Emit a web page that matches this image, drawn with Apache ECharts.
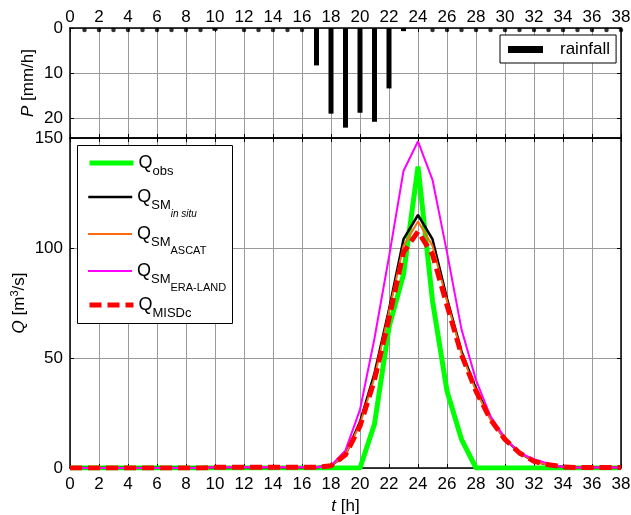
<!DOCTYPE html>
<html>

<head>
  <meta charset="utf-8" />
  <script src="https://cdn.jsdelivr.net/npm/echarts@6/dist/echarts.min.js"></script>
</head>

<body style="margin:0">
  <div id="main" style="width: 631px;height:515px;"></div>
  <script type="text/javascript">
    var hours = [0, 1, 2, 3, 4, 5, 6, 7, 8, 9, 10, 11, 12, 13, 14, 15, 16, 17, 18, 19,
      20, 21, 22, 23, 24, 25, 26, 27, 28, 29, 30, 31, 32, 33, 34, 35, 36, 37, 38]
    // rainfall [mm/h], null = no record
    var rain = [null, 0, 0, 0, 0, 0, 0, 0, 0, 0, 0.6, null, 0, 0, 0, 0, 0, 8.3, 19.0, 22.1,
      18.8, 20.8, 13.4, 0.7, null, 0, 0, 0, 0, 0, 0, 0, 0, 0, 0, 0, 0, 0, 0]
    // discharge [m3/s]
    var qObs = [0, 0, 0, 0, 0, 0, 0, 0, 0, 0, 0, 0, 0, 0, 0, 0, 0, 0, 0, 0,
      0, 20, 64, 88, 137, 76, 35, 13, 0, 0, 0, 0, 0, 0, 0, 0, 0, 0, 0]
    var qInSitu = [0, 0, 0, 0, 0, 0, 0, 0, 0, 0, 0.3, 0.3, 0.3, 0.3, 0.3, 0.3, 0.3, 0.3, 1, 6,
      21, 43, 72, 104, 115, 104, 77, 53, 36, 22.5, 13, 7, 3, 1.5, 0.5, 0.2, 0.2, 0.2, 0.2]
    var qAscat = [0, 0, 0, 0, 0, 0, 0, 0, 0, 0, 0.3, 0.3, 0.3, 0.3, 0.3, 0.3, 0.3, 0.3, 1, 6,
      20, 41, 71, 101, 112, 101, 76, 52, 35, 22, 13, 7, 3, 1.5, 0.5, 0.2, 0.2, 0.2, 0.2]
    var qEra = [0, 0, 0, 0, 0, 0, 0, 0, 0, 0, 0.3, 0.3, 0.3, 0.3, 0.3, 0.3, 0.3, 0.3, 1, 8,
      26.5, 59, 96, 135, 148.5, 131, 98, 63, 40, 23.5, 13.6, 6.8, 4, 2, 0.5, 0.2, 0.2, 0.2, 0.2]
    var qMisdc = [0, 0, 0, 0, 0, 0, 0, 0, 0, 0, 0.3, 0.3, 0.3, 0.3, 0.3, 0.3, 0.3, 0.3, 1, 6,
      19, 40, 68, 98, 107.5, 97, 74, 51.5, 35, 22, 13, 6.8, 3, 1.5, 0.5, 0.2, 0.2, 0.2, 0.2]

    var font = 'Liberation Sans, Arial, sans-serif'

    function pairs(arr) {
      return arr.map(function (v, i) { return [hours[i], v] })
    }

    var myChart = echarts.init(document.getElementById('main'))

    function xAx(grid, pos, labels, extra) {
      var a = {
        type: 'value', gridIndex: grid, position: pos, min: 0, max: 38, interval: 2,
        axisLine: { onZero: false, lineStyle: { color: '#000', width: 1.5 } },
        axisTick: { inside: true, length: 4, lineStyle: { color: '#000' } },
        axisLabel: { show: labels, color: '#000', fontSize: 17, fontFamily: font, margin: pos === 'top' ? 2 : 8 },
        splitLine: { show: labels, lineStyle: { color: '#9a9a9a', width: 1 } }
      }
      return Object.assign(a, extra || {})
    }
    function yAx(grid, pos, labels, extra) {
      var a = {
        type: 'value', gridIndex: grid, position: pos,
        axisLine: { onZero: false, lineStyle: { color: '#000', width: 1.5 } },
        axisTick: { inside: true, length: 4, lineStyle: { color: '#000' } },
        axisLabel: { show: labels, color: '#000', fontSize: 17, fontFamily: font, margin: 7 },
        splitLine: { show: labels, lineStyle: { color: '#9a9a9a', width: 1 } }
      }
      return Object.assign(a, extra || {})
    }

    var nameRich = {
      i: { fontStyle: 'italic', fontSize: 17, fontFamily: font, color: '#000' },
      sup: { fontSize: 11, fontFamily: font, color: '#000', padding: [0, 0, 9, 0] }
    }

    var legRich = {
      q: { fontSize: 18, fontFamily: font, color: '#000', height: 46 },
      s: { fontSize: 13, fontFamily: font, color: '#000', padding: [16, 0, 0, 0] },
      ss: { fontSize: 10, fontFamily: font, color: '#000', fontStyle: 'italic', padding: [34, 0, 0, 0] },
      sa: { fontSize: 11, fontFamily: font, color: '#000', padding: [33, 0, 0, 0] }
    }
    var legText = {
      obs: '{q|Q}{s|obs}',
      insitu: '{q|Q}{s|SM}{ss|in situ}',
      ascat: '{q|Q}{s|SM}{sa|ASCAT}',
      era: '{q|Q}{s|SM}{sa|ERA-LAND}',
      misdc: '{q|Q}{s|MISDc}'
    }
    var legNames = ['obs', 'insitu', 'ascat', 'era', 'misdc']
    var legCenters = [163, 197, 234, 271, 305]
    var legWidths = { obs: 5, insitu: 2.5, ascat: 2, era: 2, misdc: 5 }

    var legends = legNames.map(function (n, k) {
      return {
        data: [n], left: 87, top: legCenters[k] - 9, padding: 0, z: 10,
        itemWidth: 44, itemHeight: 14, selectedMode: false,
        itemStyle: { opacity: 0 },
        lineStyle: { width: legWidths[n] },
        formatter: function (name) { return legText[name] },
        textStyle: { rich: legRich }
      }
    })
    legends.push({
      data: ['rainfall'], left: 500, top: 35, z: 10, selectedMode: false,
      padding: [6, 6, 5, 8], borderColor: '#000', borderWidth: 1, backgroundColor: '#fff',
      itemWidth: 35, itemHeight: 7, icon: 'rect',
      textStyle: { fontSize: 17, fontFamily: font, color: '#000', padding: [0, 0, 0, 12] }
    })

    var option = {
      animation: false,
      backgroundColor: '#fff',
      grid: [
        { left: 70, right: 10, top: 28, height: 110, outerBoundsMode: 'none', containLabel: false },
        { left: 70, right: 10, top: 138, height: 330, outerBoundsMode: 'none', containLabel: false }
      ],
      xAxis: [
        xAx(0, 'top', true),
        xAx(0, 'bottom', false),
        xAx(1, 'bottom', true, {
          name: '{i|t} [h]', nameLocation: 'middle', nameGap: 30,
          nameTextStyle: { fontSize: 17, fontFamily: font, color: '#000', rich: nameRich }
        }),
        xAx(1, 'top', false)
      ],
      yAxis: [
        yAx(0, 'left', true, {
          inverse: true, min: 0, max: 24.4, interval: 10,
          name: '{i|P} [mm/h]', nameLocation: 'middle', nameGap: 33, nameRotate: 90,
          nameMoveOverlap: false,
          nameTextStyle: { fontSize: 17, fontFamily: font, color: '#000', rich: nameRich }
        }),
        yAx(0, 'right', false, { inverse: true, min: 0, max: 24.4, interval: 10 }),
        yAx(1, 'left', true, {
          min: 0, max: 150, interval: 50,
          name: '{i|Q} [m{sup|3}/s]', nameLocation: 'middle', nameGap: 41, nameRotate: 90,
          nameMoveOverlap: false,
          nameTextStyle: { fontSize: 17, fontFamily: font, color: '#000', rich: nameRich }
        }),
        yAx(1, 'right', false, { min: 0, max: 150, interval: 50 })
      ],
      legend: legends,
      graphic: [{
        type: 'rect', left: 77, top: 145, z: 5,
        shape: { width: 155, height: 178 },
        style: { fill: '#fff', stroke: '#000', lineWidth: 1 }
      }],
      series: [
        {
          name: 'rainfall', type: 'bar', xAxisIndex: 0, yAxisIndex: 0, barWidth: 5,
          itemStyle: { color: '#000' }, data: pairs(rain)
        },
        {
          name: 'dots', type: 'scatter', xAxisIndex: 0, yAxisIndex: 0, symbolSize: 4.5,
          symbolOffset: [0, 2], itemStyle: { color: '#000' }, silent: true,
          data: pairs(rain.map(function (v) { return v === 0 ? 0 : null }))
        },
        {
          name: 'obs', type: 'line', xAxisIndex: 2, yAxisIndex: 2, symbol: 'none',
          itemStyle: { color: '#00ff00' }, lineStyle: { color: '#00ff00', width: 5 }, data: pairs(qObs)
        },
        {
          name: 'insitu', type: 'line', xAxisIndex: 2, yAxisIndex: 2, symbol: 'none',
          itemStyle: { color: '#000' }, lineStyle: { color: '#000', width: 2.5 }, data: pairs(qInSitu)
        },
        {
          name: 'ascat', type: 'line', xAxisIndex: 2, yAxisIndex: 2, symbol: 'none',
          itemStyle: { color: '#ff6a10' }, lineStyle: { color: '#ff6a10', width: 2 }, data: pairs(qAscat)
        },
        {
          name: 'era', type: 'line', xAxisIndex: 2, yAxisIndex: 2, symbol: 'none',
          itemStyle: { color: '#ff00ff' }, lineStyle: { color: '#ff00ff', width: 2 }, data: pairs(qEra)
        },
        {
          name: 'misdc', type: 'line', xAxisIndex: 2, yAxisIndex: 2, symbol: 'none',
          itemStyle: { color: '#ff0000' }, lineStyle: { color: '#ff0000', width: 5, type: [12, 6] }, data: pairs(qMisdc)
        }
      ]
    }
    option.yAxis[0].axisLabel.showMaxLabel = false

    myChart.setOption(option)
  </script>
</body>

</html>
